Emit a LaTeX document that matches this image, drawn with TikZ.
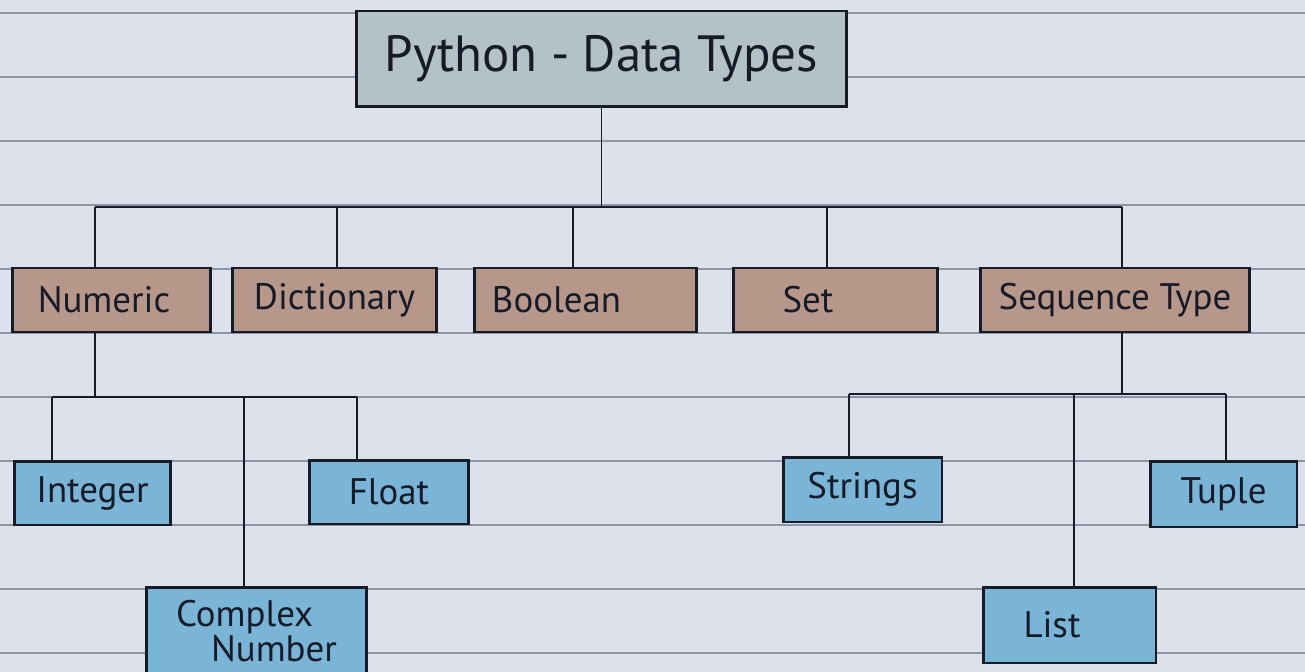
\documentclass[tikz,border=0pt]{standalone}
\usepackage{fontspec}
\setmainfont{PT Sans}
\definecolor{paper}{HTML}{DDE1EC}
\definecolor{ruleline}{HTML}{8E95A2}
\definecolor{ink}{HTML}{161B28}
\definecolor{slate}{HTML}{B4C1C6}
\definecolor{clay}{HTML}{B8978B}
\definecolor{sky}{HTML}{7AB5D8}
\newcommand{\padr}[1]{\hspace*{#1}\mbox{}}
\begin{document}
\begin{tikzpicture}[x=0.02cm, y=-0.02cm,
  box/.style={draw=ink, line width=1.7pt, text=ink, inner sep=0pt},
  titlebox/.style={box, fill=slate, minimum width=9.82cm, minimum height=1.92cm, font=\fontsize{29}{32}\selectfont},
  typebox/.style={box, fill=clay, minimum height=1.28cm, font=\fontsize{21}{24}\selectfont},
  subbox/.style={box, fill=sky, font=\fontsize{21}{24}\selectfont},
  link/.style={draw=ink, line width=1.1pt},
  bus/.style={draw=ink, line width=1.7pt}]
\path[use as bounding box] (0,0) rectangle (1305,672);
\clip (0,0) rectangle (1305,672);
% ruled paper
\fill[paper] (0,0) rectangle (1305,672);
\foreach \y in {13,77,...,653}
  \draw[ruleline, line width=0.9pt] (0,\y) -- (1305,\y);

% boxes
\node[titlebox] (title) at (601.5,59) {Python - Data Types};

\node[typebox, minimum width=3.98cm] (numeric) at (111.5,300) {Numeric\padr{0.3cm}};
\node[typebox, minimum width=4.1cm] (dict) at (334.5,300) {Dictionary};
\node[typebox, minimum width=4.46cm] (bool) at (585.5,300) {Boolean\padr{1.16cm}};
\node[typebox, minimum width=4.1cm] (set) at (835.5,300) {Set\padr{1.1cm}};
\node[typebox, minimum width=5.4cm] (seqtype) at (1115,300) {Sequence Type};

\node[subbox, minimum width=3.14cm, minimum height=1.28cm] (integer) at (92.5,493) {Integer};
\node[subbox, minimum width=3.2cm, minimum height=1.28cm] (float) at (389,492) {Float};
\node[subbox, minimum width=4.42cm, minimum height=1.76cm, align=left,
  font=\fontsize{21}{19}\selectfont] (complex) at (256.5,631)
  {Complex\\\hspace*{0.7cm}Number};
\node[subbox, minimum width=3.18cm, minimum height=1.3cm] (strings) at (862.5,489.5) {Strings};
\node[subbox, minimum width=2.94cm, minimum height=1.32cm] (tuple) at (1223.5,494) {Tuple};
\node[subbox, minimum width=3.46cm, minimum height=1.52cm] (list) at (1069.5,625) {List\padr{0.7cm}};

% main branch
\coordinate (dn) at (95,207);
\coordinate (dd) at (337,207);
\coordinate (db) at (573,207);
\coordinate (ds) at (827,207);
\coordinate (dq) at (1122,207);
\draw[link] (title.south) -- (title.south |- dn);
\draw[bus] (dn) -- (dq);
\foreach \d/\b in {dn/numeric, dd/dict, db/bool, ds/set, dq/seqtype}
  \draw[link] (\d) -- (\d |- \b.north);

% numeric branch
\coordinate (ni) at (52,397);
\coordinate (nc) at (244,397);
\coordinate (nf) at (357,397);
\draw[link] (dn |- numeric.south) -- (dn |- ni);
\draw[bus] (ni) -- (nf);
\draw[link] (ni) -- (ni |- integer.north);
\draw[link] (nc) -- (nc |- complex.north);
\draw[link] (nf) -- (nf |- float.north);

% sequence branch
\coordinate (qs) at (849,394);
\coordinate (ql) at (1074,394);
\coordinate (qt) at (1226,394);
\draw[link] (dq |- seqtype.south) -- (dq |- qs);
\draw[bus] (qs) -- (qt);
\draw[link] (qs) -- (qs |- strings.north);
\draw[link] (ql) -- (ql |- list.north);
\draw[link] (qt) -- (qt |- tuple.north);
\end{tikzpicture}
\end{document}
